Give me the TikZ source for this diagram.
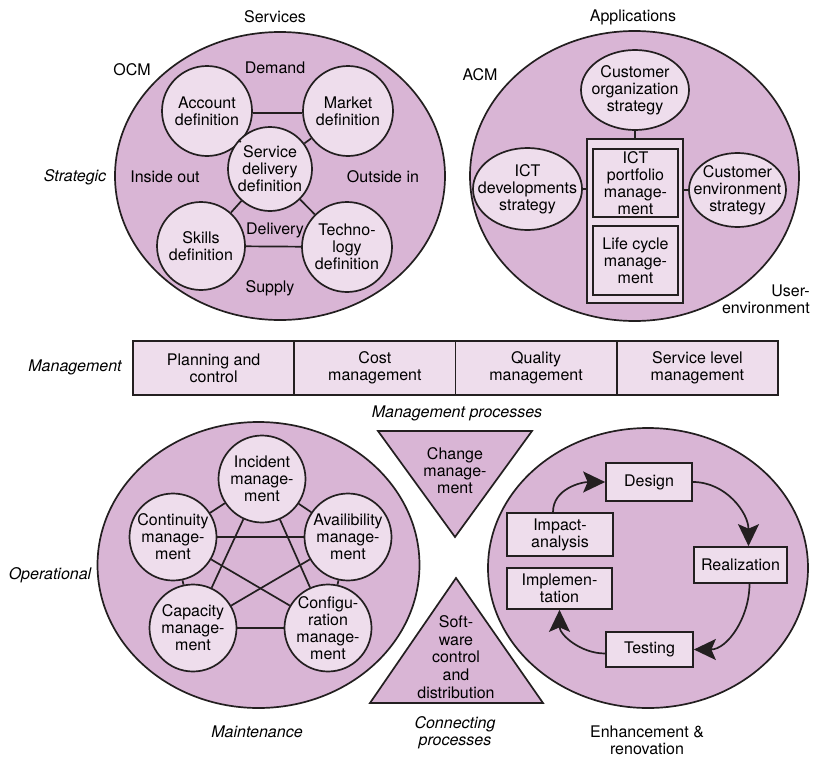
\documentclass[tikz,border=0pt]{standalone}
\usepackage{fontspec}
\setmainfont{TeX Gyre Heros}
\usetikzlibrary{shapes.geometric,arrows.meta}
\definecolor{ink}{HTML}{231F20}
\definecolor{mauve}{HTML}{D9B5D5}
\definecolor{pale}{HTML}{EEDDEC}
\newcommand\bodyfont{\fontsize{16}{17}\selectfont}

\begin{document}
\begin{tikzpicture}[x=1pt,y=-1pt,
  base/.style={draw=ink, line width=1.7pt},
  big/.style={base, ellipse, fill=mauve, inner sep=0pt},
  circ/.style={base, circle, fill=pale, inner sep=0pt, minimum size=#1},
  oval/.style={base, ellipse, fill=pale, inner sep=0pt},
  box/.style={base, rectangle, fill=pale, inner sep=0pt},
  tri/.style={base, fill=mauve, line join=miter},
  txt/.style={align=center, inner sep=0pt, font=\bodyfont},
  ital/.style={align=center, inner sep=0pt, font=\bodyfont\itshape},
  link/.style={draw=ink, line width=1.7pt},
  flow/.style={draw=ink, line width=1.7pt, -{Stealth[length=22pt,width=21pt,inset=4.5pt]}},
]
\useasboundingbox (0,0) rectangle (814,758);

% ---------- Strategic: services (OCM) ----------
\node[big, minimum width=330pt, minimum height=288pt] (ocm) at (280,176) {};
\node[circ=90pt, label={[txt]center:Account\\definition}] (acc) at (207,111) {};
\node[circ=90pt, label={[txt]center:Market\\definition}] (mkt) at (348,111) {};
\node[circ=84pt, label={[txt]center:Service\\delivery\\definition}] (sdd) at (270,169) {};
\node[circ=88pt, label={[txt]center:Skills\\definition}] (skl) at (201,246) {};
\node[circ=90pt, label={[txt]center:Techno-\\logy\\definition}] (tec) at (347,247) {};
\draw[link] ([yshift=-2pt]acc.east) -- ([yshift=-2pt]mkt.west);
\draw[link] (skl) -- (tec);
\draw[link] (acc) -- (sdd);
\draw[link] (mkt) -- (sdd);
\draw[link] (skl) -- (sdd);
\draw[link] (tec) -- (sdd);

\node[txt] (tserv) at (275,17) {Services};
\node[txt] (tocm) at (132,70) {OCM};
\node[txt] (tdem) at (275,68) {Demand};
\node[txt] (tin) at (165,177) {Inside out};
\node[txt] (tout) at (383,177) {Outside in};
\node[txt] (tdel) at (275,230) {Delivery};
\node[txt] (tsup) at (270,288) {Supply};
\node[ital] (tstr) at (75,177) {Strategic};

% ---------- Strategic: applications (ACM) ----------
\node[big, minimum width=329pt, minimum height=290pt] (acm) at (634.5,176) {};
\node[oval, minimum width=108pt, minimum height=80pt,
  label={[txt]center:Customer\\organization\\strategy}] (org) at (635,90) {};
\node[oval, minimum width=109pt, minimum height=82pt,
  label={[txt]center:ICT\\developments\\strategy}] (icd) at (527.5,189) {};
\node[oval, minimum width=97pt, minimum height=74pt,
  label={[txt]center:Customer\\environment\\strategy}] (cen) at (737.5,190) {};
\node[box, minimum width=96pt, minimum height=164pt] (port) at (635,221) {};
\node[box, minimum width=85pt, minimum height=68pt,
  label={[txt]center:ICT\\portfolio\\manage-\\ment}] (ictp) at (635.5,183) {};
\node[box, minimum width=85pt, minimum height=69pt,
  label={[txt]center:Life cycle\\manage-\\ment}] (life) at (635.5,260.5) {};
\draw[link] (org) -- (port);
\draw[link] (icd.east) -- (icd.east -| port.west);
\draw[link] (cen.west) -- (cen.west -| port.east);

\node[txt] (tapp) at (633,17) {Applications};
\node[txt] (tacm) at (480,75) {ACM};
\node[txt, align=right, anchor=east] (tuser) at (810,299.5) {User-\\environment};

% ---------- Management ----------
\node[box, minimum width=161.25pt, minimum height=54pt, txt] (m1) at (213.6,368) {Planning and\\control};
\node[box, minimum width=161.25pt, minimum height=54pt, txt] (m2) at (374.9,368) {Cost\\management};
\node[box, minimum width=161.25pt, minimum height=54pt, txt] (m3) at (536.1,368) {Quality\\management};
\node[box, minimum width=161.25pt, minimum height=54pt, txt] (m4) at (697.4,368) {Service level\\management};
\node[ital] (tman) at (75,367) {Management};
\node[ital] (tmproc) at (457,413) {Management processes};

% ---------- Operational: maintenance ----------
\node[big, minimum width=322pt, minimum height=286pt] (mnt) at (258.5,565) {};
\node[circ=87pt, label={[txt]center:Incident\\manage-\\ment}] (inc) at (262,479) {};
\node[circ=87pt, label={[txt]center:Continuity\\manage-\\ment}] (con) at (173,537) {};
\node[circ=87pt, label={[txt]center:Availibility\\manage-\\ment}] (ava) at (348,537) {};
\node[circ=87pt, label={[txt]center:Capacity\\manage-\\ment}] (cap) at (193,628) {};
\node[circ=87pt, label={[txt]center:Configu-\\ration\\manage-\\ment}] (cfg) at (328,628) {};
\foreach \a/\b in {inc/con, inc/ava, inc/cap, inc/cfg, con/ava,
                   con/cap, con/cfg, ava/cap, ava/cfg, cap/cfg}
  \draw[link] (\a) -- (\b);
\node[ital] (top) at (50,575) {Operational};
\node[ital] (tmnt) at (257,732) {Maintenance};

% ---------- Connecting processes ----------
\draw[tri] (378,431) -- (532,431) -- (455,537) -- cycle;
\node[txt] (chg) at (455,471) {Change\\manage-\\ment};
\draw[tri] (456,578) -- (543,703) -- (370,703) -- cycle;
\node[txt, font=\fontsize{16}{17.6}\selectfont] (swc) at (456,657) {Soft-\\ware\\control\\and\\distribution};
\node[ital] (tconn) at (455,733) {Connecting\\processes};

% ---------- Operational: enhancement & renovation ----------
\node[big, minimum width=320pt, minimum height=280pt] (enh) at (648,568) {};
\node[box, minimum width=86pt, minimum height=38pt, txt] (des) at (649,482) {Design};
\node[box, minimum width=106pt, minimum height=43pt, txt] (imp) at (560,534.5) {Impact-\\analysis};
\node[box, minimum width=105pt, minimum height=41pt, txt] (iml) at (559.5,588.5) {Implemen-\\tation};
\node[box, minimum width=93pt, minimum height=36pt, txt] (rea) at (740.5,565) {Realization};
\node[box, minimum width=87pt, minimum height=35pt, txt] (tst) at (649.5,649.5) {Testing};
\draw[flow] ([xshift=-7pt]imp.north) to[out=90,in=180] (des.west);
\draw[flow] (des.east) to[out=0,in=90] ([xshift=8pt]rea.north);
\draw[flow] ([xshift=9pt]rea.south) to[out=-90,in=0] (tst.east);
\draw[flow] ([yshift=-4pt]tst.west) to[out=180,in=-90] (iml.south);
\node[txt] (tenh) at (647,740) {Enhancement \&\\renovation};
\end{tikzpicture}
\end{document}
